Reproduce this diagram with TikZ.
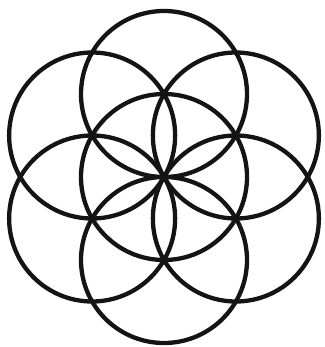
\documentclass[tikz,border=0pt]{standalone}
\usetikzlibrary{calc}
\begin{document}
\begin{tikzpicture}[x=1pt,y=-1pt,
  ring/.style={draw=black!92,line width=4.3pt}]
\useasboundingbox[fill=white] (0,0) rectangle (324,347);
\coordinate (c) at (164,177);
\def\R{83}
\draw[ring] (c) circle[radius=\R];
\foreach \a in {90,150,210,270,330,30}{
  \draw[ring] ($(c)+(\a:\R)$) circle[radius=\R];
}
\end{tikzpicture}
\end{document}
